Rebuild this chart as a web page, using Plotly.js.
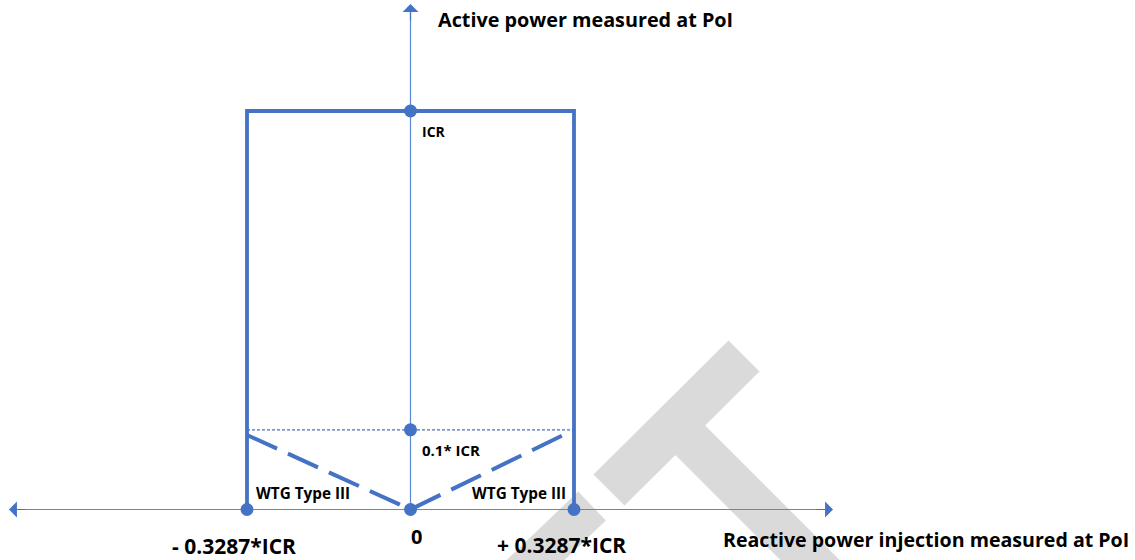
<!DOCTYPE html>
<html>
<head>
<meta charset="utf-8">
<script src="https://cdn.plot.ly/plotly-3.0.1.min.js"></script>
<style>html,body{margin:0;padding:0;background:#fff;}#chart{width:1135px;height:560px;}</style>
</head>
<body>
<div id="chart"></div>
<script>
// ---- data (in units of ICR) ----
const limitX = [-0.3287, -0.3287, 0.3287, 0.3287];   // reactive power limits
const limitY = [0, 1, 1, 0];                          // active power (ICR = 1)
const wtgX = [-0.3287, 0, 0.3287];                    // WTG Type III dashed V
const wtgY = [0.187, 0, 0.2];
const lowLevelX = [-0.3287, 0.3287];                  // 0.1*ICR level (as drawn)
const lowLevelY = [0.2, 0.2];
const pointX = [0, 0, 0, -0.3287, 0.3287];
const pointY = [1, 0.2, 0, 0, 0];
const tickX = [-0.3287, 0, 0.3287];
const tickLabels = ['- 0.3287*ICR', '0', '+ 0.3287*ICR'];
const levelLabels = ['ICR', '0.1* ICR'];
const levelY = [1, 0.2];
const xTitle = 'Reactive power injection measured at PoI';
const yTitle = 'Active power measured at PoI';
const regionLabel = 'WTG Type III';

// ---- layout helpers ----
const W = 1135, H = 560;
const BLUE = '#4472C4';
const AX = '#5a88d4';
const GRAY = '#dadada';
const P = px => px / W;
const Q = py => 1 - py / H;
const x0px = 410.5, kx = 163.5 / 0.3287;
const y0px = 509.5, ky = 398.5;
const xRange = [-x0px / kx, (W - x0px) / kx];
const yRange = [-(H - y0px) / ky, y0px / ky];
const fx = px => (px - x0px) / kx;
const fy = py => (y0px - py) / ky;

function bar(p0, p1, w) {
  const dx = p1[0] - p0[0], dy = p1[1] - p0[1];
  const L = Math.hypot(dx, dy);
  const nx = -dy / L * w / 2, ny = dx / L * w / 2;
  const pts = [[p0[0] + nx, p0[1] + ny], [p1[0] + nx, p1[1] + ny], [p1[0] - nx, p1[1] - ny], [p0[0] - nx, p0[1] - ny]];
  return 'M' + pts.map(p => P(p[0]).toFixed(5) + ',' + Q(p[1]).toFixed(5)).join(' L') + ' Z';
}

const shapes = [
  {type: 'path', xref: 'paper', yref: 'paper', layer: 'below', fillcolor: GRAY, line: {width: 0}, path: bar([609, 490], [744, 356], 44)},
  {type: 'path', xref: 'paper', yref: 'paper', layer: 'below', fillcolor: GRAY, line: {width: 0}, path: bar([690, 440], [840, 590], 42)},
  {type: 'path', xref: 'paper', yref: 'paper', layer: 'below', fillcolor: GRAY, line: {width: 0}, path: bar([592, 506], [520, 575], 40)}
];

const traces = [
  {x: [0, 0], y: [0, fy(8)], mode: 'lines', line: {color: AX, width: 1.2}, hoverinfo: 'skip'},
  {x: [fx(13), fx(829)], y: [0, 0], mode: 'lines', line: {color: AX, width: 1.2}, hoverinfo: 'skip'},
  {x: lowLevelX, y: lowLevelY, mode: 'lines', line: {color: BLUE, width: 1.2, dash: '3px,2px'}, hoverinfo: 'skip'},
  {x: limitX, y: limitY, mode: 'lines', line: {color: BLUE, width: 3.8}, hoverinfo: 'skip'},
  {x: wtgX, y: wtgY, mode: 'lines', line: {color: BLUE, width: 4, dash: '33px,12px'}, hoverinfo: 'skip'},
  {x: pointX, y: pointY, mode: 'markers', marker: {color: BLUE, size: 13}, hoverinfo: 'skip'}
];

const font = (s) => ({family: 'Open Sans, Lato, sans-serif', size: s, color: '#000', weight: 700});
const arrow = {text: '', showarrow: true, arrowhead: 1, arrowsize: 2.2, arrowwidth: 1.2, arrowcolor: BLUE, axref: 'x', ayref: 'y', xref: 'x', yref: 'y'};
const annotations = [
  // arrow heads
  Object.assign({x: fx(833), y: 0, ax: fx(815), ay: 0}, arrow),
  Object.assign({x: fx(9), y: 0, ax: fx(27), ay: 0}, arrow),
  Object.assign({x: 0, y: fy(4), ax: 0, ay: fy(22)}, arrow),
  // titles
  {xref: 'paper', yref: 'paper', x: P(436), y: Q(20), xanchor: 'left', yanchor: 'middle', text: yTitle, showarrow: false, font: font(19.8)},
  {xref: 'paper', yref: 'paper', x: P(721), y: Q(539), xanchor: 'left', yanchor: 'middle', text: xTitle, showarrow: false, font: font(19.6)},
  // tick labels
  {xref: 'x', yref: 'paper', x: tickX[0], xshift: -13, y: Q(546), xanchor: 'center', yanchor: 'middle', text: tickLabels[0], showarrow: false, font: font(21)},
  {xref: 'x', yref: 'paper', x: tickX[1], xshift: 6, y: Q(536), xanchor: 'center', yanchor: 'middle', text: tickLabels[1], showarrow: false, font: font(20)},
  {xref: 'x', yref: 'paper', x: tickX[2], xshift: -13, y: Q(545), xanchor: 'center', yanchor: 'middle', text: tickLabels[2], showarrow: false, font: font(21)},
  // level labels
  {xref: 'x', yref: 'y', x: 0, xshift: 9, y: levelY[0], yshift: -20, xanchor: 'left', yanchor: 'middle', text: levelLabels[0], showarrow: false, font: font(14)},
  {xref: 'x', yref: 'y', x: 0, xshift: 9, y: levelY[1], yshift: -20, xanchor: 'left', yanchor: 'middle', text: levelLabels[1], showarrow: false, font: font(15)},
  // region labels
  {xref: 'x', yref: 'y', x: -0.3287, xshift: 7, y: 0, yshift: 17, xanchor: 'left', yanchor: 'middle', text: regionLabel, showarrow: false, font: font(15.3)},
  {xref: 'x', yref: 'y', x: 0.3287, xshift: -6, y: 0, yshift: 17, xanchor: 'right', yanchor: 'middle', text: regionLabel, showarrow: false, font: font(15.3)}
];

const axisBase = {showgrid: false, zeroline: false, showticklabels: false, showline: false, ticks: '', fixedrange: true};
const layout = {
  width: W, height: H,
  margin: {l: 0, r: 0, t: 0, b: 0, pad: 0},
  paper_bgcolor: '#fff', plot_bgcolor: '#fff',
  showlegend: false,
  xaxis: Object.assign({range: xRange}, axisBase),
  yaxis: Object.assign({range: yRange}, axisBase),
  shapes: shapes,
  annotations: annotations
};
Plotly.newPlot('chart', traces, layout, {staticPlot: true, displayModeBar: false});
</script>
</body>
</html>
